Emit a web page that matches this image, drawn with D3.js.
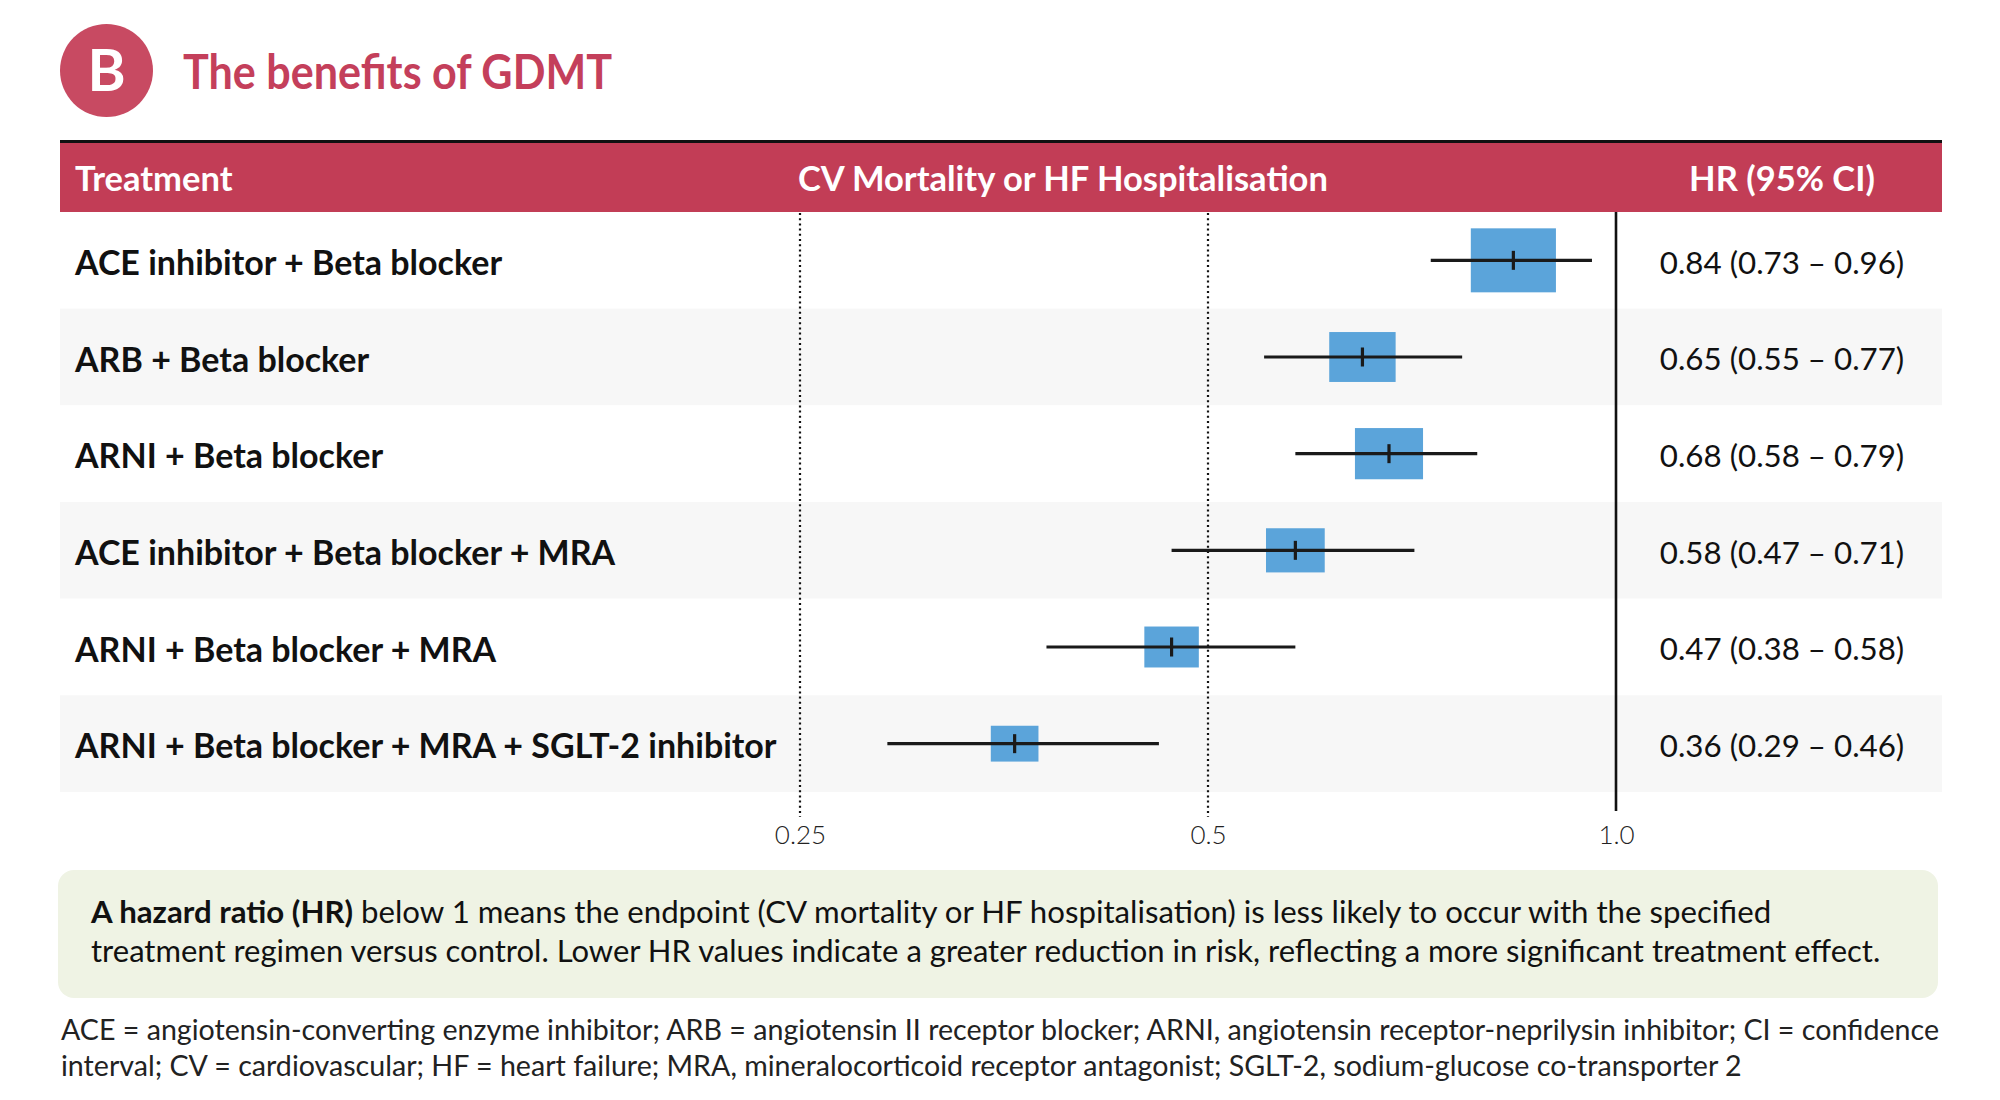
<!DOCTYPE html>
<html><head><meta charset="utf-8">
<script src="https://cdn.jsdelivr.net/npm/d3@7"></script>
<style>
body{margin:0;background:#fff;}
svg text{font-family:Lato,"Open Sans",sans-serif;}
</style></head>
<body><svg id="c" width="2000" height="1100"></svg>
<script>
const treatments = [
  "ACE inhibitor + Beta blocker",
  "ARB + Beta blocker",
  "ARNI + Beta blocker",
  "ACE inhibitor + Beta blocker + MRA",
  "ARNI + Beta blocker + MRA",
  "ARNI + Beta blocker + MRA + SGLT-2 inhibitor"
];
const hr    = [0.84, 0.65, 0.68, 0.58, 0.47, 0.36];
const ciLow = [0.73, 0.55, 0.58, 0.47, 0.38, 0.29];
const ciHigh= [0.96, 0.77, 0.79, 0.71, 0.58, 0.46];
const boxWeight = [1.0, 0.78, 0.80, 0.69, 0.64, 0.56];
const tickValues = [0.25, 0.5, 1.0];
const tickLabels = ["0.25", "0.5", "1.0"];

const data = treatments.map((t,i)=>({t, hr:hr[i], lo:ciLow[i], hi:ciHigh[i], w:boxWeight[i]}));
const fmt = d3.format(".2f");

const svg = d3.select("#c");
const RED = "#C23D56";

// title
svg.append("circle").attr("cx",106.5).attr("cy",70.5).attr("r",46.5).attr("fill","#C84A62");
svg.append("text").attr("x",106.5).attr("y",91).attr("text-anchor","middle")
  .attr("font-size",58).attr("font-weight",700).attr("fill","#fff").text("B");
svg.append("text").attr("x",183).attr("y",89).attr("font-size",48).attr("font-weight",700)
  .attr("textLength",429).attr("lengthAdjust","spacingAndGlyphs")
  .attr("fill","#C43F5B").text("The benefits of GDMT");

// header
svg.append("rect").attr("x",60).attr("y",140).attr("width",1882).attr("height",3.5).attr("fill","#111");
svg.append("rect").attr("x",60).attr("y",143).attr("width",1882).attr("height",69).attr("fill",RED);

const x = d3.scaleLog().domain([0.25,1]).range([800,1616]);
const y = d3.scaleBand().domain(treatments).range([212,792]).padding(0);

// row shading
svg.append("g").selectAll("rect").data(data).join("rect")
  .attr("x",60).attr("width",1882)
  .attr("y",d=>y(d.t)).attr("height",y.bandwidth())
  .attr("fill",(d,i)=>i%2 ? "#F7F7F7" : "#FFFFFF");

const hdr = svg.append("g").attr("fill","#fff").attr("font-weight",700).attr("font-size",34.5);
hdr.append("text").attr("x",75).attr("y",191).text("Treatment");
hdr.append("text").attr("x",798).attr("y",191).text("CV Mortality or HF Hospitalisation");
hdr.append("text").attr("x",1782).attr("y",191).attr("text-anchor","middle").text("HR (95% CI)");

// reference lines
svg.append("g").selectAll("line").data(tickValues.slice(0,2)).join("line")
  .attr("x1",d=>x(d)).attr("x2",d=>x(d)).attr("y1",213).attr("y2",817)
  .attr("stroke","#111").attr("stroke-width",2.2).attr("stroke-dasharray","2,3.2");
svg.append("line").attr("x1",x(1)).attr("x2",x(1)).attr("y1",212).attr("y2",811)
  .attr("stroke","#111").attr("stroke-width",2.6);

// axis labels
const ax = svg.append("g").attr("transform","translate(0,816)")
  .call(d3.axisBottom(x).tickValues(tickValues).tickFormat((d,i)=>tickLabels[i]).tickSize(0).tickPadding(10));
ax.select(".domain").remove();
ax.selectAll("text").attr("font-size",26).attr("font-weight",300).attr("fill","#222")
  .attr("font-family","Lato,sans-serif");

// labels
svg.append("g").selectAll("text").data(data).join("text")
  .attr("x",75).attr("y",d=>y(d.t)+y.bandwidth()/2).attr("dy","0.43em")
  .attr("font-size",34).attr("font-weight",700).attr("fill","#111").text(d=>d.t);

// boxes
const hScale = d3.scaleLinear().domain([0,1]).range([0,64]);
const g = svg.append("g");
g.selectAll("rect").data(data).join("rect")
  .attr("x",d=>x(d.hr)-hScale(d.w)*1.33/2).attr("width",d=>hScale(d.w)*1.33)
  .attr("y",d=>y(d.t)+y.bandwidth()/2-hScale(d.w)/2).attr("height",d=>hScale(d.w))
  .attr("fill","#5BA4DA");
g.selectAll("line.ci").data(data).join("line").attr("class","ci")
  .attr("x1",d=>x(d.lo)).attr("x2",d=>x(d.hi))
  .attr("y1",d=>y(d.t)+y.bandwidth()/2).attr("y2",d=>y(d.t)+y.bandwidth()/2)
  .attr("stroke","#1a1a1a").attr("stroke-width",3.2);
g.selectAll("line.pt").data(data).join("line").attr("class","pt")
  .attr("x1",d=>x(d.hr)).attr("x2",d=>x(d.hr))
  .attr("y1",d=>y(d.t)+y.bandwidth()/2-9.5).attr("y2",d=>y(d.t)+y.bandwidth()/2+9.5)
  .attr("stroke","#1a1a1a").attr("stroke-width",3.2);

// HR values
svg.append("g").selectAll("text").data(data).join("text")
  .attr("x",1782).attr("y",d=>y(d.t)+y.bandwidth()/2).attr("dy","0.43em").attr("text-anchor","middle")
  .attr("font-size",31.3).attr("fill","#111")
  .text(d=>`${fmt(d.hr)} (${fmt(d.lo)} \u2013 ${fmt(d.hi)})`);

// note box
svg.append("rect").attr("x",58).attr("y",870).attr("width",1880).attr("height",128).attr("rx",16)
  .attr("fill","#EFF3E4");
const n1 = svg.append("text").attr("x",91).attr("y",923).attr("font-size",31.2).attr("fill","#111");
n1.append("tspan").attr("font-weight",700).text("A hazard ratio (HR)");
n1.append("tspan").text(" below 1 means the endpoint (CV mortality or HF hospitalisation) is less likely to occur with the specified");
svg.append("text").attr("x",91).attr("y",962).attr("font-size",31).attr("fill","#111")
  .text("treatment regimen versus control. Lower HR values indicate a greater reduction in risk, reflecting a more significant treatment effect.");

// footnote
svg.append("text").attr("x",61).attr("y",1040).attr("font-size",28.6).attr("fill","#222")
  .text("ACE = angiotensin-converting enzyme inhibitor; ARB = angiotensin II receptor blocker; ARNI, angiotensin receptor-neprilysin inhibitor; CI = confidence");
svg.append("text").attr("x",61).attr("y",1076).attr("font-size",28.6).attr("fill","#222")
  .text("interval; CV = cardiovascular; HF = heart failure; MRA, mineralocorticoid receptor antagonist; SGLT-2, sodium-glucose co-transporter 2");
</script></body></html>
